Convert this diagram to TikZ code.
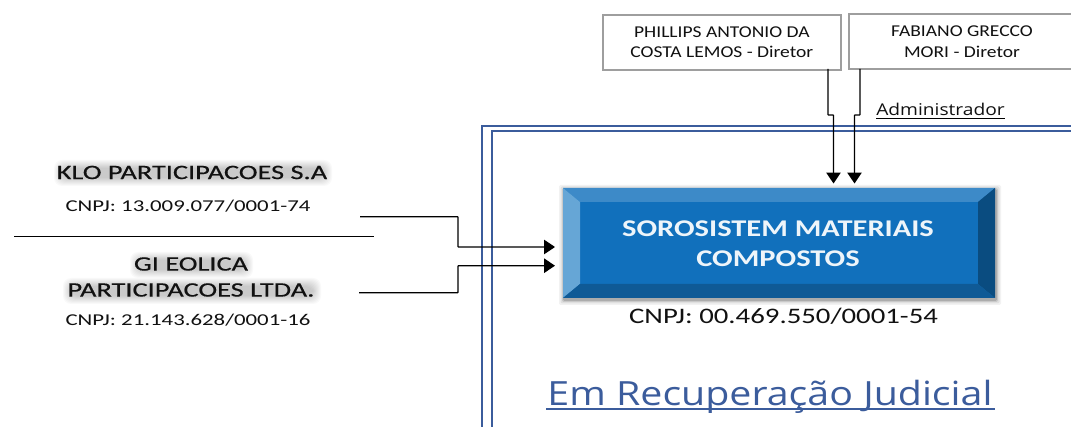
\documentclass[tikz,border=0pt]{standalone}
\usepackage{fontspec}
\usetikzlibrary{arrows.meta,calc}
\setmainfont[FakeStretch=1.18]{Carlito}
\newfontfamily\wide[FakeStretch=1.27]{Carlito}
\newfontfamily\cnpjf[FakeStretch=1.30]{Carlito}
\newfontfamily\leftf[FakeStretch=1.38]{Carlito}
\newfontfamily\leftb[FakeStretch=1.38,FakeBold=0.4]{Carlito}
\newfontfamily\thin[FakeStretch=1.18]{Open Sans}
\definecolor{frameblue}{HTML}{3B5C9C}
\definecolor{face}{HTML}{1170BC}
\definecolor{bevtop}{HTML}{3D8AC8}
\definecolor{bevleft}{HTML}{66A6D6}
\definecolor{bevright}{HTML}{0A4C80}
\definecolor{bevbot}{HTML}{0F5A96}
\definecolor{txt}{HTML}{111111}
\newcommand{\fs}[1]{\fontsize{#1}{#1}\selectfont}
\tikzset{
  x=0.75pt,y=-0.75pt,
  person/.style={draw=black!38,line width=1.3pt,fill=white,minimum height=41.25pt,inner sep=0pt,align=center,text=txt,font=\fs{12.4}},
  label/.style={inner sep=0pt,text=txt,align=center},
  conn/.style={draw=black,line width=1pt,rounded corners=0.4pt},
  arrowed/.style={conn,-{Triangle[length=8.2pt,width=10.8pt]}},
  frameline/.style={draw=frameblue,line width=1.8pt},
  glow/.style={fill=black,opacity=0.022,rounded corners=6pt,draw=none}
}
\newcommand{\glowbar}[4]{%
  \foreach \d in {-2,-1,0,1,2,3,4,5,6}{\fill[glow] (#1-\d,#3-\d) rectangle (#2+\d,#4+\d);}%
}
\begin{document}
\begin{tikzpicture}
\useasboundingbox (0,0) rectangle (1071,427);
\fill[white] (0,0) rectangle (1071,427);
% frame
\draw[frameline] (482,427) -- (482,126) -- (1071,126);
\draw[frameline] (492,427) -- (492,131) -- (1071,131);
% director boxes
\node[person,minimum width=178.5pt,anchor=north west] (phil) at (602,14) {PHILLIPS ANTONIO DA\\[3pt]COSTA LEMOS - Diretor};
\draw[draw=black!38,line width=1.3pt,fill=white] (1075,14) -- (849,14) -- (849,69) -- (1075,69);
\coordinate (fabul) at (849,14);
\node[label,font=\fs{12.4}] (fab) at (962,41.5) {FABIANO GRECCO\\[3pt]MORI - Diretor};
\node[label,anchor=base west,font=\thin\fs{12.2}] (adm) at (876,116) {Administrador};
\draw[black,line width=0.7pt] (adm.base west)++(0,2.5) -- ($(adm.base east)+(0,2.5)$);
% main box
\foreach \d/\o in {5/0.05,3.5/0.07,2/0.1,1/0.14}{\fill[black,opacity=\o,rounded corners=1pt] (563-\d+1,188-\d+2) rectangle (995+\d+1,298+\d+2);}
\fill[face] (563,188) rectangle (995,298);
\fill[bevtop] (563,188) -- (995,188) -- (978,202) -- (580,202) -- cycle;
\fill[bevleft] (563,188) -- (580,202) -- (580,284) -- (563,298) -- cycle;
\fill[bevright] (995,188) -- (978,202) -- (978,284) -- (995,298) -- cycle;
\fill[bevbot] (563,298) -- (580,284) -- (978,284) -- (995,298) -- cycle;
\node[inner sep=0pt,minimum width=324pt,minimum height=82.5pt] (main) at (779,243) {};
\node[label,text=white!93!face,font=\wide\bfseries\fs{18},align=center] (mainlabel) at (778,243.5) {SOROSISTEM MATERIAIS\\[4.5pt]COMPOSTOS};
\node[label,font=\cnpjf\fs{16.6}] (cnpjm) at (783.5,316.5) {CNPJ: 00.469.550/0001-54};
\node[label,text=frameblue,anchor=base,font=\thin\fs{25}] (rec) at (770,405.5) {Em Recuperação Judicial};
\draw[frameblue,line width=1pt] (546,409) -- (995,409);
% shareholders
\glowbar{60}{326}{166}{180}
\glowbar{136}{247}{258}{272}
\glowbar{69}{315}{284}{298}
\node[label,font=\leftb\fs{15.4}] (klo) at (192,172.5) {KLO PARTICIPACOES S.A};
\node[label,font=\leftf\fs{12.4}] (klocnpj) at (188,206.5) {CNPJ: 13.009.077/0001-74};
\node[label,font=\leftb\fs{15.4}] (gi) at (191,264) {GI EOLICA};
\node[label,font=\leftb\fs{15.4}] (gi2) at (191,290) {PARTICIPACOES LTDA.};
\node[label,font=\leftf\fs{12.4}] (gicnpj) at (188,320) {CNPJ: 21.143.628/0001-16};
\coordinate (div1) at (14,236.5);
\coordinate (div2) at (374,236.5);
\draw[black,line width=0.6pt] (div1) -- (div2);
% connectors
\coordinate (a1) at (360,216.7);
\coordinate (a2) at (359,292.7);
\coordinate (mid1) at (458,247);
\coordinate (mid2) at (458,265.7);
\coordinate (l1) at (555,247);
\coordinate (l2) at (555,265.7);
\draw[arrowed] (a1) -| (mid1) -- (l1);
\draw[arrowed] (a2) -| (mid2) -- (l2);
\coordinate (p0) at (828,69);
\coordinate (f0) at (860,69);
\coordinate (pt) at (833.5,183.5);
\coordinate (ft) at (854.5,183.5);
\draw[arrowed] (p0) -- (828,115) -- (833.5,115) -- (pt);
\draw[arrowed] (f0) -- (860,115) -- (854.5,115) -- (ft);
\end{tikzpicture}
\end{document}
